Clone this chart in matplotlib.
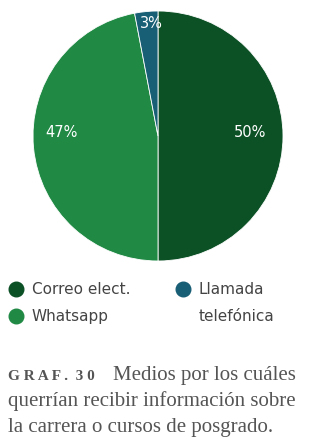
import matplotlib.pyplot as plt
from matplotlib.lines import Line2D

# Data
categories = ['Correo elect.', 'Whatsapp', 'Llamada\ntelefónica']
values = [50, 47, 3]
colors = ['#0c5026', '#208a45', '#185e75']

W, H = 310, 445
fig = plt.figure(figsize=(W / 100, H / 100), dpi=100)

# pie centred at (158, 136) px, radius 125 px
cx, cy, r = 158, 136, 125
ax = fig.add_axes([(cx - r) / W, 1 - (cy + r) / H, 2 * r / W, 2 * r / H])
wedges, _, autotexts = ax.pie(values, colors=colors, startangle=90, counterclock=False,
                              autopct='%d%%', pctdistance=0.7,
                              wedgeprops=dict(edgecolor='white', linewidth=0.6),
                              textprops=dict(color='white', fontsize=10.5, family='DejaVu Sans'))
ax.set_xlim(-1.0, 1.0)
ax.set_ylim(-1.0, 1.0)
ax.set_aspect('equal')

# label positions inside the slices (px in figure)
label_px = [(250, 133), (62, 133), (151, 24)]
for t, (px, py) in zip(autotexts, label_px):
    t.set_position(((px - cx) / r, (cy - py) / r))

# legend, drawn by hand
legend_px = [(16, 289), (16, 316), (183, 289)]
for (px, py), c, lab in zip(legend_px, colors, categories):
    fig.add_artist(Line2D([px / W], [1 - py / H], transform=fig.transFigure,
                          marker='o', markersize=10.5, color=c, linestyle=''))
    fig.text((px + 16) / W, 1 - py / H, lab, fontsize=11, family='DejaVu Sans',
             color='#444444', va='top' if '\n' in lab else 'center',
             linespacing=2.0, transform=fig.transFigure)
# shift multi-line label so that its first line centres on the marker
for t in fig.texts:
    if '\n' in t.get_text():
        x, y = t.get_position()
        t.set_position((x, y + 7 / H))

# caption
grey = '#555555'
fig.text(0.027, 0.145, 'G R A F .  3 0', fontsize=11, fontweight='bold',
         family='Liberation Serif', color=grey)
fig.text(0.365, 0.145, 'Medios por los cuáles', fontsize=15,
         family='Liberation Serif', color=grey)
fig.text(0.027, 0.087, 'querrían recibir información sobre', fontsize=15,
         family='Liberation Serif', color=grey)
fig.text(0.027, 0.029, 'la carrera o cursos de posgrado.', fontsize=15,
         family='Liberation Serif', color=grey)

fig.savefig('out.png', dpi=100)
